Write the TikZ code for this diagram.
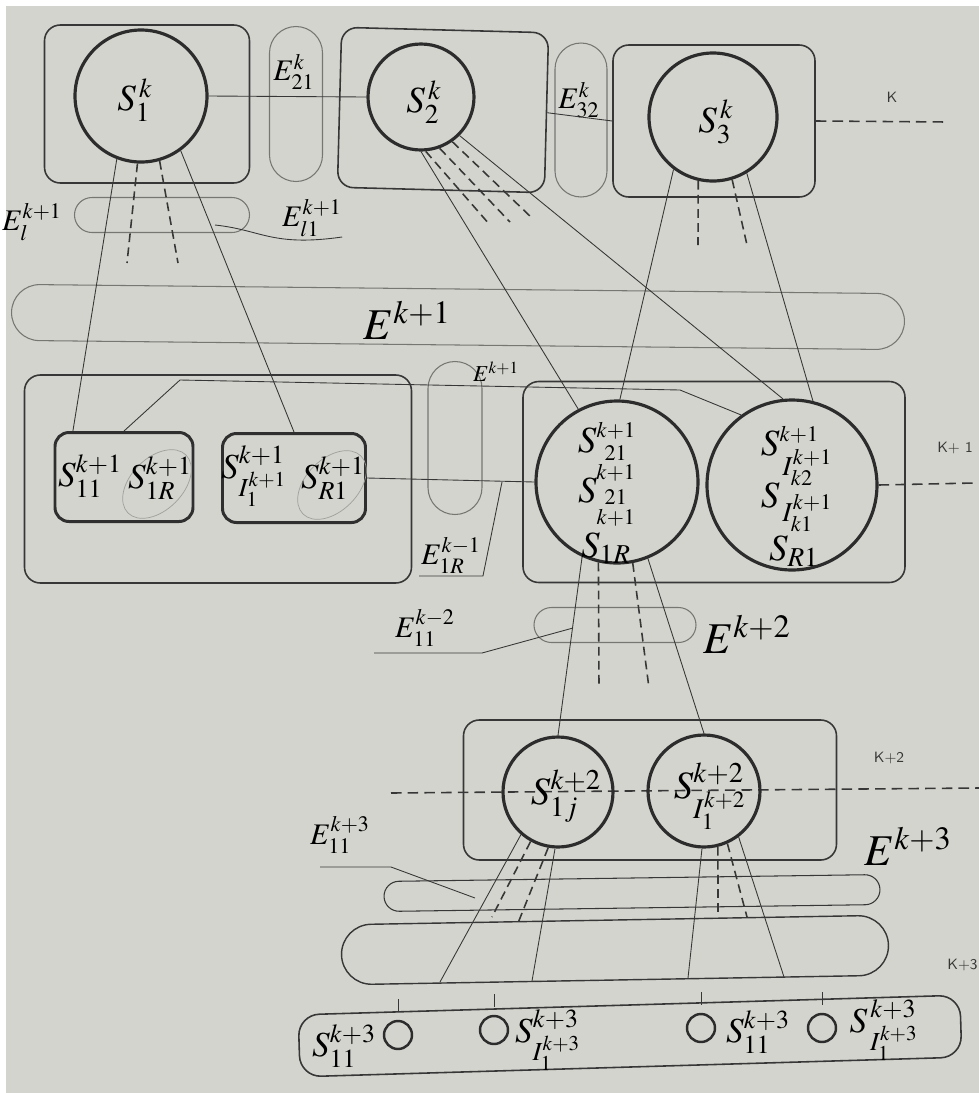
\documentclass[tikz,border=0pt]{standalone}
\usepackage{amsmath}
\usepackage{mathptmx}
\usetikzlibrary{shapes.geometric,shapes.misc,positioning}
\definecolor{paper}{RGB}{212,212,206}
\definecolor{ink}{RGB}{55,55,55}
\definecolor{pencil}{RGB}{118,118,114}
\def\upx{0.02cm}
\newcommand\ix[1]{{\scriptscriptstyle #1}}
\tikzset{
  layerbox/.style={draw=ink, line width=0.9pt, rounded corners=9pt, inner sep=0pt},
  groupbox/.style={draw=ink!85!black, line width=1.7pt, rounded corners=8pt, inner sep=0pt},
  subsys/.style={circle, draw=ink!80!black, line width=1.8pt, inner sep=0pt},
  dot/.style={circle, draw=ink!80!black, line width=1.4pt, inner sep=0pt, minimum size=28*\upx},
  pill/.style={rounded rectangle, draw=pencil, line width=0.6pt, inner sep=0pt},
  halo/.style={ellipse, draw=pencil!70, line width=0.4pt, rotate=45, minimum width=82*\upx, minimum height=52*\upx},
  link/.style={draw=ink, line width=0.5pt},
  tie/.style={draw=ink, line width=0.9pt, dash pattern=on 5pt off 3pt},
  levelline/.style={draw=ink, line width=0.9pt, dash pattern=on 6pt off 3.5pt},
  slbl/.style={inner sep=0pt, font=\fontsize{21}{24}\selectfont},
  mlbl/.style={inner sep=0pt, font=\fontsize{20}{24}\selectfont},
  elbl/.style={inner sep=0pt, font=\fontsize{17}{20}\selectfont},
  belbl/.style={inner sep=0pt, font=\fontsize{25}{28}\selectfont},
  lvl/.style={inner sep=0pt, text=ink, font=\sffamily\fontsize{8.5}{10}\selectfont}
}

\begin{document}
\begin{tikzpicture}[x=0.02cm, y=-0.02cm]
\useasboundingbox (0,0) rectangle (979,1093);
\fill[white] (0,0) rectangle (979,1093);
\fill[paper] (6,6) rectangle (979,1093);

% level k
\node[layerbox, minimum width=205*\upx, minimum height=158*\upx] (box1) at (147,104) {};
\node[subsys, minimum size=132*\upx] (S1) at (141,96) {};
\node[slbl] at (135,100) {$S^{\,k}_{1}$};
\node[pill, rotate=90, minimum width=155*\upx, minimum height=53*\upx] (E21) at (296,104) {};
\node[elbl] at (294,72) {$E^{k}_{21}$};
\node[layerbox, rotate=-1.5, minimum width=207*\upx, minimum height=160*\upx] (box2) at (443,110) {};
\node[subsys, minimum size=106*\upx] (S2) at (421,97) {};
\node[slbl] at (424,102) {$S^{\,k}_{2}$};
\node[pill, rotate=90, minimum width=154*\upx, minimum height=52*\upx] (E32) at (581,120) {};
\node[elbl] at (579,100) {$E^{k}_{32}$};
\node[layerbox, minimum width=202*\upx, minimum height=152*\upx] (box3) at (714,121) {};
\node[subsys, minimum size=128*\upx] (S3) at (713,117) {};
\node[slbl] at (716,122) {$S^{\,k}_{3}$};
\node[lvl] (lk) at (892,97) {K};
\coordinate (k0) at (948,122);
\draw[levelline] (box3.east) -- (k0);
\draw[link] (S1.east) -- (S2.west);
\draw[link] (box2.east) -- (box3.west);

% inner links of level k+1
\node[pill, minimum width=175*\upx, minimum height=35*\upx] (El) at (162,215) {};
\node[elbl] at (32,222) {$E^{k+1}_{l}$};
\node[elbl] (El1lbl) at (312,218) {$E^{k+1}_{l1}$};
\coordinate (ElIn) at (215,225);
\draw[link] (ElIn) .. controls (262,230) and (272,247) .. (El1lbl.south east);
\node[pill, rotate=-0.6, minimum width=893*\upx, minimum height=56*\upx] (E1) at (458,317) {};
\node[belbl] at (407,320) {$E^{k+1}$};

% level k+1
\node[layerbox, minimum width=387*\upx, minimum height=208*\upx] (boxL) at (218,479) {};
\node[groupbox, minimum width=138*\upx, minimum height=89*\upx] (gS11) at (124,477) {};
\node[groupbox, minimum width=143*\upx, minimum height=89*\upx] (gSI1) at (294,478) {};
\node[halo] at (157,484) {};
\node[halo] at (332,485) {};
\node[mlbl] at (90,476) {$S^{k+1}_{11}$};
\node[mlbl] at (160,478) {$S^{k+1}_{1R}$};
\node[mlbl] at (254,476) {$S^{k+1}_{I_1^{k+1}}$};
\node[mlbl] at (333,478) {$S^{k+1}_{R1}$};
\node[pill, rotate=90, minimum width=153*\upx, minimum height=54*\upx] (Em) at (455,438) {};
\node[elbl, font=\fontsize{13}{15}\selectfont] at (496,372) {$E^{k+1}$};
\node[layerbox, minimum width=382*\upx, minimum height=201*\upx] (boxR) at (714,482) {};
\node[subsys, minimum size=162*\upx] (C21) at (617,482) {};
\node[subsys, minimum size=170*\upx] (CI2) at (792,485) {};
\node[slbl] at (607,452) {$S^{\ix{k+1}}_{\substack{\ix{21}\\[-1pt] \ix{k+1}}}$};
\node[slbl] at (607,502) {$S_{\substack{\ix{21}\\[-1pt] \ix{k+1}}}$};
\node[slbl] at (606,548) {$S_{1R}$};
\node[slbl] at (797,456) {$S^{\ix{k+1}}_{\,I^{\ix{k+1}}_{\ix{k2}}}$};
\node[slbl] at (797,507) {$S_{\,I^{\ix{k+1}}_{\ix{k1}}}$};
\node[slbl] at (794,551) {$S_{R1}$};
\coordinate (k1) at (975,483);
\draw[levelline] (CI2.east) -- (k1);
\node[lvl] at (955,448) {K+ 1};
\coordinate (bendA) at (180,380);
\coordinate (bendB) at (680,390);
\draw[link] (gS11.north) -- (bendA) -- (bendB) -- (CI2.126);
\draw[link] (gSI1.east) -- (C21.west);
\node[elbl, minimum width=48*\upx, inner sep=1pt, anchor=south] (E1Rlbl) at (451,576) {$E^{k-1}_{1R}$};
\coordinate (tapR) at (502,482);
\draw[link] (tapR) -- (E1Rlbl.south east) -- (E1Rlbl.south west);

% links k -> k+1
\coordinate (t1a) at (127,263);
\coordinate (t1b) at (178,263);
\draw[link] (S1.-111) -- (gS11.138);
\draw[link] (S1.-54) -- (gSI1.north);
\draw[tie] (S1.-93) -- (t1a);
\draw[tie] (S1.-74) -- (t1b);
\coordinate (t2a) at (490,225);
\coordinate (t2b) at (510,222);
\coordinate (t2c) at (532,218);
\draw[link] (S2.-90) -- (C21.118);
\draw[link] (S2.-45) -- (CI2.96);
\draw[tie] (S2.-85) -- (t2a);
\draw[tie] (S2.-70) -- (t2b);
\draw[tie] (S2.-55) -- (t2c);
\coordinate (t3a) at (698,245);
\coordinate (t3b) at (747,245);
\draw[link] (S3.-127) -- (C21.88);
\draw[link] (S3.-59) -- (CI2.76);
\draw[tie] (S3.-103) -- (t3a);
\draw[tie] (S3.-73) -- (t3b);

% level k+2
\node[pill, minimum width=162*\upx, minimum height=35*\upx] (E2) at (615,625) {};
\node[elbl] (E11lbl) at (425,628) {$E^{k-2}_{11}$};
\node[belbl] at (747,634) {$E^{k+2}$};
\coordinate (tap2) at (573,628);
\coordinate (ld2a) at (482,653);
\coordinate (ld2b) at (374,653);
\draw[link] (tap2) -- (ld2a) -- (ld2b);
\node[layerbox, minimum width=373*\upx, minimum height=140*\upx] (boxB) at (650,790) {};
\coordinate (k2a) at (391,793);
\coordinate (k2b) at (979,788);
\draw[levelline] (k2a) -- (k2b);
\node[lvl] at (889,758) {K+2};
\node[subsys, minimum size=110*\upx] (C1j) at (558,792) {};
\node[subsys, minimum size=112*\upx] (CI1) at (704,791) {};
\node[slbl, font=\fontsize{22}{26}\selectfont] at (566,796) {$S^{k+2}_{1j}$};
\node[slbl, font=\fontsize{22}{26}\selectfont] at (710,796) {$S^{k+2}_{I_1^{k+2}}$};
\coordinate (t4a) at (599,688);
\coordinate (t4b) at (649,688);
\draw[link] (C21.-115) -- (C1j.north);
\draw[link] (C21.-68) -- (CI1.north);
\draw[tie] (C21.-103) -- (t4a);
\draw[tie] (C21.-79) -- (t4b);

% level k+3
\node[elbl] (E11lbl3) at (340,835) {$E^{k+3}_{11}$};
\node[belbl] at (908,846) {$E^{k+3}$};
\node[pill, draw=ink, rotate=0.8, minimum width=496*\upx, minimum height=30*\upx] (E3a) at (632,893) {};
\node[pill, draw=ink, line width=0.8pt, rotate=1, minimum width=547*\upx, minimum height=60*\upx] (E3b) at (615,950) {};
\coordinate (ld3a) at (320,867);
\coordinate (ld3b) at (391,867);
\coordinate (tap3) at (475,898);
\draw[link] (ld3a) -- (ld3b) -- (tap3);
\node[lvl, anchor=east] at (978,965) {K+3};
\coordinate (f1) at (440,982);
\coordinate (f2) at (532,981);
\coordinate (f3) at (688,978);
\coordinate (f4) at (784,977);
\coordinate (t5a) at (492,917);
\coordinate (t5b) at (518,923);
\coordinate (t5c) at (718,915);
\coordinate (t5d) at (747,917);
\draw[link] (C1j.-131) -- (f1);
\draw[link] (C1j.-93) -- (f2);
\draw[link] (CI1.-92) -- (f3);
\draw[link] (CI1.-53) -- (f4);
\draw[tie] (C1j.-119) -- (t5a);
\draw[tie] (C1j.-100) -- (t5b);
\draw[tie] (CI1.-76) -- (t5c);
\draw[tie] (CI1.-66) -- (t5d);

% bottom row
\node[layerbox, rounded corners=12pt, rotate=1.7, minimum width=662*\upx, minimum height=62*\upx] (rowB) at (630,1036) {};
\node[dot] (c1) at (398,1035) {};
\node[dot] (c2) at (494,1030) {};
\node[dot] (c3) at (701,1028) {};
\node[dot] (c4) at (822,1028) {};
\foreach \c in {c1,c2,c3,c4}
  \draw[link] (\c.north) ++(0,-8) -- ++(0,-13);
\node[mlbl] at (344,1046) {$S^{k+3}_{11}$};
\node[mlbl] at (548,1040) {$S^{k+3}_{I_1^{k+3}}$};
\node[mlbl] at (758,1032) {$S^{k+3}_{11}$};
\node[mlbl] at (884,1030) {$S^{\,k+3}_{\,I_1^{k+3}}$};
\end{tikzpicture}
\end{document}
